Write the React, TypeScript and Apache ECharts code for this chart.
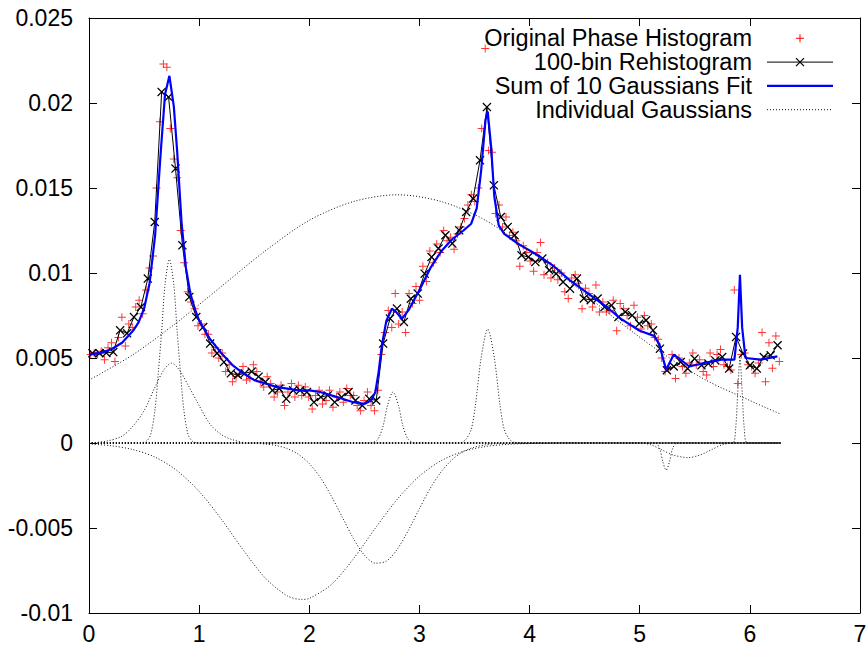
import React, { useEffect, useRef } from "react";
import * as echarts from "echarts";

const FONT = '"Liberation Sans", Arial, Helvetica, sans-serif';

// tick labels
const xTicks = [0, 1, 2, 3, 4, 5, 6, 7];
const yTickLabels = ["-0.01", "-0.005", "0", "0.005", "0.01", "0.015", "0.02", "0.025"];

// 100-bin rehistogram (bin centres over [0, 2π))
const rehist = [
  0.00528, 0.00528, 0.0053, 0.00535, 0.00663, 0.00645, 0.00741, 0.008, 0.00967, 0.013,
  0.02065, 0.02035, 0.01614, 0.01163, 0.00859, 0.00741, 0.00682, 0.00585, 0.00528, 0.00476,
  0.0041, 0.004, 0.0041, 0.0042, 0.0039, 0.0036, 0.0031, 0.0032, 0.0026, 0.0031,
  0.0031, 0.003, 0.0024, 0.0027, 0.0028, 0.0024, 0.0027, 0.003, 0.0025, 0.0022,
  0.0026, 0.0025, 0.00585, 0.00732, 0.00791, 0.00712, 0.00849, 0.00879, 0.00996, 0.01094,
  0.01144, 0.01222, 0.01173, 0.01251, 0.01359, 0.01438, 0.01663, 0.01976, 0.01516, 0.01329,
  0.01271, 0.01222, 0.01104, 0.01094, 0.01065, 0.01085, 0.01016, 0.00996, 0.00947, 0.00908,
  0.00967, 0.0085, 0.0084, 0.0085, 0.008, 0.0081, 0.00741, 0.00771, 0.00751, 0.00702,
  0.00722, 0.00663, 0.00555, 0.00428, 0.0045, 0.00476, 0.00438, 0.00496, 0.00457, 0.00467,
  0.00486, 0.00506, 0.00438, 0.00624, 0.00526, 0.00457, 0.00438, 0.00506, 0.00516, 0.00575,
];

// original phase histogram (200 bins over [0, 2π))
const original = [
  0.0052, 0.0053, 0.0052, 0.0054, 0.0049, 0.0056, 0.0059, 0.0048, 0.0062, 0.0074,
  0.0057, 0.007, 0.0068, 0.008, 0.0084, 0.0076, 0.009, 0.0103, 0.011, 0.015,
  0.0189, 0.0223, 0.0221, 0.0185, 0.0167, 0.0156, 0.0125, 0.0106, 0.0089, 0.0083,
  0.0079, 0.0069, 0.007, 0.0064, 0.0064, 0.0053, 0.0056, 0.005, 0.0053, 0.0042,
  0.0046, 0.0036, 0.0039, 0.0041, 0.0045, 0.0037, 0.0038, 0.0046, 0.0042, 0.0036,
  0.0033, 0.0039, 0.0035, 0.0027, 0.003, 0.0034, 0.0022, 0.003, 0.0035, 0.0027,
  0.0034, 0.0028, 0.0033, 0.0027, 0.002, 0.0028, 0.0031, 0.0023, 0.0025, 0.0031,
  0.0021, 0.0027, 0.003, 0.0024, 0.0032, 0.0028, 0.0028, 0.0022, 0.0019, 0.0025,
  0.003, 0.0022, 0.0019, 0.0031, 0.0052, 0.0065, 0.0078, 0.0068, 0.0088, 0.007,
  0.0077, 0.0065, 0.0088, 0.0082, 0.0092, 0.0084, 0.0104, 0.0095, 0.0113, 0.0106,
  0.0117, 0.0112, 0.0125, 0.0119, 0.0121, 0.0114, 0.0123, 0.0127, 0.0132, 0.014,
  0.0146, 0.0142, 0.015, 0.0185, 0.0232, 0.0172, 0.0171, 0.0135, 0.014, 0.0127,
  0.0133, 0.0122, 0.0124, 0.0119, 0.0104, 0.0116, 0.0112, 0.0107, 0.0101, 0.0112,
  0.0118, 0.0099, 0.0106, 0.0097, 0.0103, 0.0096, 0.01, 0.0089, 0.0085, 0.0097,
  0.0099, 0.0094, 0.0079, 0.0091, 0.0088, 0.008, 0.0093, 0.0077, 0.0083, 0.0077,
  0.0078, 0.0084, 0.0066, 0.0082, 0.0079, 0.0075, 0.0069, 0.0081, 0.0074, 0.0067,
  0.0075, 0.0069, 0.007, 0.0062, 0.0061, 0.005, 0.0042, 0.0044, 0.0052, 0.0038,
  0.005, 0.0045, 0.0041, 0.0047, 0.0053, 0.0046, 0.0049, 0.0042, 0.004, 0.0053,
  0.0045, 0.0052, 0.0055, 0.0046, 0.0045, 0.0043, 0.009, 0.0035, 0.0052, 0.0053,
  0.0046, 0.0045, 0.0041, 0.0047, 0.0065, 0.0036, 0.0059, 0.0044, 0.0063, 0.0048,
];

// sum-of-10-Gaussians fit, sampled
const fitX = [
  0, 0.1, 0.2, 0.3, 0.4, 0.45, 0.5, 0.55, 0.6, 0.65, 0.69, 0.73, 0.77, 0.8, 0.84, 0.88, 0.92, 0.96, 1.0, 1.1,
  1.2, 1.3, 1.4, 1.5, 1.6, 1.7, 1.8, 1.9, 2.0, 2.1, 2.2, 2.3, 2.4, 2.5, 2.56, 2.6, 2.63, 2.66, 2.7, 2.75,
  2.79, 2.84, 2.9, 3.0, 3.1, 3.2, 3.3, 3.4, 3.47, 3.52, 3.56, 3.6, 3.62, 3.65, 3.68, 3.72, 3.77, 3.9, 4.06, 4.22,
  4.36, 4.53, 4.7, 4.83, 5.0, 5.13, 5.18, 5.21, 5.24, 5.27, 5.31, 5.37, 5.45, 5.58, 5.74, 5.86, 5.89, 5.91, 5.93, 5.96,
  6.1, 6.25,
];
const fitY = [
  0.0052, 0.0053, 0.0055, 0.0059, 0.0066, 0.0071, 0.0079, 0.0094, 0.0122, 0.017, 0.0205, 0.0216, 0.0198, 0.0172, 0.013, 0.0103, 0.0088, 0.0079, 0.0072, 0.0061,
  0.0053, 0.0046, 0.0041, 0.0037, 0.0035, 0.0033, 0.0032, 0.0031, 0.0031, 0.003, 0.0028, 0.0026, 0.0024, 0.0023, 0.0025, 0.003, 0.0042, 0.0058, 0.0072, 0.0079,
  0.0077, 0.0073, 0.0078, 0.009, 0.0103, 0.0113, 0.012, 0.0125, 0.0129, 0.0138, 0.016, 0.019, 0.0195, 0.0175, 0.0145, 0.0128, 0.0123, 0.0117, 0.0111, 0.0104,
  0.0096, 0.0088, 0.008, 0.0073, 0.0066, 0.0063, 0.0058, 0.005, 0.0043, 0.0047, 0.0052, 0.0049, 0.0045, 0.0047, 0.0049, 0.0049, 0.0068, 0.0099, 0.0068, 0.005,
  0.0049, 0.0051,
];

// individual Gaussians, sampled [x, y]
const gauss1 = [[0, 0.0037], [0.4, 0.0052], [0.8, 0.0071], [1.2, 0.0092], [1.6, 0.0113], [2.0, 0.0131], [2.4, 0.0142], [2.8, 0.0146], [3.2, 0.0142], [3.6, 0.0131], [4.0, 0.0113], [4.4, 0.0093], [4.8, 0.0072], [5.2, 0.0053], [5.6, 0.0037], [6.0, 0.0025], [6.28, 0.0017]];
const gauss2 = [[0, 0], [0.45, 0], [0.52, 0.0001], [0.56, 0.0005], [0.6, 0.002], [0.63, 0.0042], [0.66, 0.0066], [0.69, 0.0093], [0.73, 0.0108], [0.77, 0.0093], [0.8, 0.0066], [0.83, 0.0042], [0.86, 0.002], [0.9, 0.0005], [0.94, 0.0001], [1.0, 0], [6.28, 0]];
const gauss3 = [[0, 0], [0.15, 0.0001], [0.3, 0.0004], [0.4, 0.001], [0.5, 0.0019], [0.6, 0.0033], [0.68, 0.0043], [0.75, 0.0047], [0.82, 0.0043], [0.9, 0.0034], [1.0, 0.0022], [1.1, 0.0011], [1.2, 0.0005], [1.3, 0.0002], [1.45, 0], [6.28, 0]];
const gauss4 = [[0, -0.00006], [0.2, -0.00016], [0.4, -0.00039], [0.6, -0.00083], [0.8, -0.00163], [1.0, -0.00285], [1.2, -0.00447], [1.4, -0.00629], [1.6, -0.00794], [1.8, -0.00899], [1.93, -0.0092], [2.0, -0.00914], [2.2, -0.00833], [2.4, -0.00682], [2.6, -0.00501], [2.8, -0.0033], [3.0, -0.00195], [3.2, -0.00103], [3.4, -0.00049], [3.6, -0.00021], [3.8, -0.00008], [4.0, -0.00003], [4.4, 0], [6.28, 0]];
const gauss5 = [[0, 0], [1.5, -0.00002], [1.6, -0.00006], [1.7, -0.00015], [1.8, -0.00033], [1.9, -0.00066], [2.0, -0.00121], [2.1, -0.00203], [2.2, -0.00312], [2.3, -0.00437], [2.4, -0.00561], [2.5, -0.00659], [2.6, -0.00707], [2.7, -0.00695], [2.8, -0.00624], [2.9, -0.00513], [3.0, -0.00386], [3.1, -0.00265], [3.2, -0.00167], [3.3, -0.00096], [3.4, -0.0005], [3.5, -0.00024], [3.6, -0.00011], [3.7, -0.00004], [3.85, 0], [6.28, 0]];
const gauss6 = [[0, 0], [2.55, 0], [2.62, 0.0002], [2.67, 0.001], [2.71, 0.0022], [2.76, 0.003], [2.81, 0.0022], [2.85, 0.001], [2.9, 0.0002], [2.97, 0], [6.28, 0]];
const gauss7 = [[0, 0], [3.36, 0], [3.42, 0.0002], [3.47, 0.0008], [3.51, 0.0023], [3.56, 0.005], [3.62, 0.0067], [3.68, 0.005], [3.73, 0.0023], [3.77, 0.0008], [3.82, 0.0002], [3.88, 0], [6.28, 0]];
const gauss8 = [[0, 0], [5.14, 0], [5.18, -0.0003], [5.21, -0.0011], [5.24, -0.0016], [5.27, -0.0011], [5.3, -0.0003], [5.34, 0], [6.28, 0]];
const gauss9 = [[0, 0], [5.0, 0], [5.1, -0.0001], [5.2, -0.0004], [5.3, -0.0007], [5.44, -0.00086], [5.55, -0.0007], [5.65, -0.0004], [5.75, -0.0001], [5.85, 0], [6.28, 0]];
const gauss10 = [[0, 0], [5.84, 0], [5.87, 0.0008], [5.89, 0.003], [5.91, 0.005], [5.93, 0.003], [5.95, 0.0008], [5.98, 0], [6.28, 0]];
const gaussians = [gauss1, gauss2, gauss3, gauss4, gauss5, gauss6, gauss7, gauss8, gauss9, gauss10];

const legendNames = ["Original Phase Histogram", "100-bin Rehistogram", "Sum of 10 Gaussians Fit", "Individual Gaussians"];

const PLUS = "path://M4.4,0H5.6V4.4H10V5.6H5.6V10H4.4V5.6H0V4.4H4.4Z";
const CROSS = "path://M0,1L1,0L5,4L9,0L10,1L6,5L10,9L9,10L5,6L1,10L0,9L4,5Z";

export default function App() {
  const ref = useRef<HTMLDivElement>(null);
  useEffect(() => {
    const chart = echarts.init(ref.current!, null, { renderer: "svg" });
    const binW = (2 * Math.PI) / rehist.length;
    const origW = (2 * Math.PI) / original.length;
    const rehistData = rehist.map((v, i) => [(i + 0.5) * binW, v]);
    const origData = original.map((v, i) => [(i + 0.5) * origW, v]);
    const fitData = fitX.map((x, i) => [x, fitY[i]]);
    const yMin = parseFloat(yTickLabels[0]);
    const yMax = parseFloat(yTickLabels[yTickLabels.length - 1]);
    const yStep = parseFloat(yTickLabels[1]) - yMin;

    const axisCommonX = {
      type: "value" as const,
      min: xTicks[0],
      max: xTicks[xTicks.length - 1],
      interval: 1,
      axisLine: { show: true, onZero: false, lineStyle: { color: "#000", width: 1 } },
      axisTick: { show: true, inside: true, length: 8, lineStyle: { color: "#000", width: 1 } },
      splitLine: { show: false },
    };
    const axisCommonY = {
      type: "value" as const,
      min: yMin,
      max: yMax,
      interval: yStep,
      axisLine: { show: true, onZero: false, lineStyle: { color: "#000", width: 1 } },
      axisTick: { show: true, inside: true, length: 8, lineStyle: { color: "#000", width: 1 } },
      splitLine: { show: false },
    };

    const legendRight = 752;
    const rows = [38.3, 62.1, 85.9, 109.7];
    const sx0 = 767;
    const sx1 = 833;
    const mx = 800;
    const graphics: any[] = [];
    legendNames.forEach((name, k) => {
      graphics.push({
        type: "text",
        x: legendRight,
        y: rows[k],
        z: 100,
        style: {
          text: name,
          align: "right",
          textAlign: "right",
          verticalAlign: "middle",
          textVerticalAlign: "middle",
          fontSize: 23.5,
          lineHeight: 23.5,
          fontFamily: FONT,
          fill: "#000",
        },
      });
    });
    // sample 1: red plus
    graphics.push({ type: "line", z: 100, shape: { x1: mx - 4, y1: rows[0], x2: mx + 4, y2: rows[0] }, style: { stroke: "#ff0000", lineWidth: 1 } });
    graphics.push({ type: "line", z: 100, shape: { x1: mx, y1: rows[0] - 4, x2: mx, y2: rows[0] + 4 }, style: { stroke: "#ff0000", lineWidth: 1 } });
    // sample 2: black line with cross
    graphics.push({ type: "line", z: 100, shape: { x1: sx0, y1: rows[1], x2: sx1, y2: rows[1] }, style: { stroke: "#000", lineWidth: 1 } });
    graphics.push({ type: "line", z: 100, shape: { x1: mx - 4, y1: rows[1] - 4, x2: mx + 4, y2: rows[1] + 4 }, style: { stroke: "#000", lineWidth: 1.3 } });
    graphics.push({ type: "line", z: 100, shape: { x1: mx - 4, y1: rows[1] + 4, x2: mx + 4, y2: rows[1] - 4 }, style: { stroke: "#000", lineWidth: 1.3 } });
    // sample 3: blue line
    graphics.push({ type: "line", z: 100, shape: { x1: sx0, y1: rows[2], x2: sx1, y2: rows[2] }, style: { stroke: "#0000ff", lineWidth: 2.2 } });
    // sample 4: dotted line
    graphics.push({ type: "line", z: 100, shape: { x1: sx0, y1: rows[3], x2: sx1, y2: rows[3] }, style: { stroke: "#111", lineWidth: 1, lineDash: [1, 2] } });

    const series: any[] = [
      {
        name: legendNames[0],
        type: "scatter",
        data: origData,
        symbol: PLUS,
        symbolSize: 8,
        itemStyle: { color: "#ff0000" },
        z: 2,
      },
      {
        name: legendNames[1],
        type: "line",
        data: rehistData,
        symbol: CROSS,
        symbolSize: 9,
        showSymbol: true,
        showAllSymbol: true,
        lineStyle: { color: "#000", width: 1 },
        itemStyle: { color: "#000" },
        z: 3,
      },
      {
        name: legendNames[2],
        type: "line",
        data: fitData,
        showSymbol: false,
        symbol: "none",
        lineStyle: { color: "#0000ff", width: 2.2 },
        z: 4,
      },
    ];
    gaussians.forEach((g, k) => {
      series.push({
        name: k === 0 ? legendNames[3] : legendNames[3] + " " + (k + 1),
        type: "line",
        data: g,
        showSymbol: false,
        symbol: "none",
        smooth: 0.3,
        lineStyle: { color: "#111", width: 1, type: [1, 2] },
        z: 5,
      });
    });

    chart.setOption({
      animation: false,
      backgroundColor: "#fff",
      textStyle: { fontFamily: FONT },
      grid: { left: 89, right: 8, top: 18, bottom: 32, containLabel: false, outerBoundsMode: "none" },
      xAxis: [
        {
          ...axisCommonX,
          position: "bottom",
          axisLabel: { show: true, color: "#000", fontSize: 23, fontFamily: FONT, margin: 9 },
        },
        {
          ...axisCommonX,
          position: "top",
          axisLabel: { show: false },
        },
      ],
      yAxis: [
        {
          ...axisCommonY,
          position: "left",
          axisLabel: {
            show: true,
            color: "#000",
            fontSize: 23,
            fontFamily: FONT,
            margin: 16,
            formatter: (v: number) => {
              const idx = Math.round((v - yMin) / yStep);
              return yTickLabels[idx] ?? String(v);
            },
          },
        },
        {
          ...axisCommonY,
          position: "right",
          axisLabel: { show: false },
        },
      ],
      series,
      graphic: graphics,
    });
    return () => chart.dispose();
  }, []);
  return <div ref={ref} style={{ position: "absolute", left: 0, top: 0, width: 868, height: 645 }} />;
}
